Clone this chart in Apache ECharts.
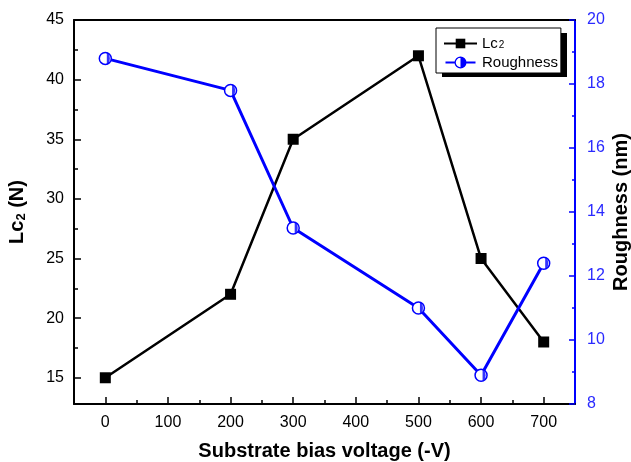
<!DOCTYPE html>
<html>
<head>
<meta charset="utf-8">
<script src="https://cdn.jsdelivr.net/npm/echarts@6/dist/echarts.min.js"></script>
<style>html,body{margin:0;padding:0;background:#fff}#c{width:631px;height:462px}</style>
</head>
<body>
<div id="c"></div>
<script>
var voltages = [0, 200, 300, 500, 600, 700];
var lc2 = [15, 22, 35, 42, 25, 18];
var roughness = [18.8, 17.8, 13.5, 11.0, 8.9, 12.4];

var xMajor = [0, 100, 200, 300, 400, 500, 600, 700];
var xMinor = [50, 150, 250, 350, 450, 550, 650];
var leftMajor = [15, 20, 25, 30, 35, 40, 45];
var leftMinor = [17.5, 22.5, 27.5, 32.5, 37.5, 42.5];
var rightMajor = [8, 10, 12, 14, 16, 18, 20];
var rightMinor = [9, 11, 13, 15, 17, 19];

var FONT = '"Liberation Sans", Arial, sans-serif';
var BLUE = '#0000ff';
var LBLUE = '#2a2aff';

function pairs(xs, ys) { return xs.map(function (x, i) { return [x, ys[i]]; }); }

var legendRoughIcon = 'path://M0,5 L9.5,5 L9.5,7 L0,7 Z ' +
  'M21,6 A6,6 0 1 1 9,6 A6,6 0 1 1 21,6 Z ' +
  'M19.7,6 A4.7,4.7 0 1 0 10.3,6 A4.7,4.7 0 1 0 19.7,6 Z ' +
  'M15,0 A6,6 0 0 1 15,12 Z ' +
  'M20.5,5 L30,5 L30,7 L20.5,7 Z';

var chart = echarts.init(document.getElementById('c'), null, {renderer: 'canvas'});
var xBase = {type: 'value', min: -50, max: 750, gridIndex: 0, splitLine: {show: false}};
var option = {
  backgroundColor: '#fff',
  animation: false,
  textStyle: {fontFamily: FONT},
  grid: {left: 74, right: 56, top: 20, bottom: 58, containLabel: false, outerBoundsMode: 'none'},
  graphic: [
    {type: 'rect', left: 442, top: 33, shape: {width: 125, height: 44}, style: {fill: '#000'}, z: 0}
  ],
  legend: {
    orient: 'vertical',
    left: 436, top: 28,
    padding: [8, 3, 3, 7],
    itemGap: 4,
    itemWidth: 33, itemHeight: 12,
    backgroundColor: '#fff',
    borderColor: '#000', borderWidth: 1,
    z: 10,
    data: [
      {name: 'Lc2'},
      {name: 'Roughness', icon: legendRoughIcon, itemStyle: {color: BLUE, borderWidth: 0}}
    ],
    formatter: function (n) { return n === 'Lc2' ? '{t|Lc}{s|2}' : '{t|Roughness}'; },
    textStyle: {
      fontFamily: FONT, fontSize: 15, color: '#000',
      rich: {
        t: {fontFamily: FONT, fontSize: 15, color: '#000', lineHeight: 14},
        s: {fontFamily: FONT, fontSize: 10, color: '#000', verticalAlign: 'bottom', lineHeight: 9, padding: [0, 0, 0, 1]}
      }
    }
  },
  xAxis: [
    Object.assign({}, xBase, {
      position: 'bottom',
      axisLine: {show: true, onZero: false, lineStyle: {color: '#000', width: 2}},
      axisTick: {show: true, inside: true, length: 7, customValues: xMajor, lineStyle: {color: '#000', width: 1.5}},
      axisLabel: {show: true, customValues: xMajor, fontSize: 16, color: '#000', margin: 11, fontFamily: FONT},
      name: 'Substrate bias voltage (-V)',
      nameLocation: 'middle', nameGap: 37,
      nameTextStyle: {fontSize: 20, fontWeight: 'bold', color: '#000', fontFamily: FONT}
    }),
    Object.assign({}, xBase, {
      position: 'bottom',
      axisLine: {show: false, onZero: false},
      axisTick: {show: true, inside: true, length: 4, customValues: xMinor, lineStyle: {color: '#000', width: 1.5}},
      axisLabel: {show: false}
    }),
    Object.assign({}, xBase, {
      position: 'top',
      axisLine: {show: true, onZero: false, lineStyle: {color: '#000', width: 2}},
      axisTick: {show: false},
      axisLabel: {show: false}
    })
  ],
  yAxis: [
    {
      type: 'value', min: 12.8, max: 45, position: 'left',
      splitLine: {show: false},
      axisLine: {show: true, onZero: false, lineStyle: {color: '#000', width: 2}},
      axisTick: {show: true, inside: true, length: 7, customValues: leftMajor, lineStyle: {color: '#000', width: 1.5}},
      axisLabel: {show: true, customValues: leftMajor, fontSize: 16, color: '#000', margin: 10, fontFamily: FONT},
      name: '{a|Lc}{b|2}{a| (N)}',
      nameLocation: 'middle', nameGap: 46, nameRotate: 90,
      nameTextStyle: {
        fontSize: 20, fontWeight: 'bold', color: '#000', fontFamily: FONT,
        rich: {
          a: {fontSize: 20, fontWeight: 'bold', color: '#000', fontFamily: FONT},
          b: {fontSize: 13, fontWeight: 'bold', color: '#000', fontFamily: FONT, verticalAlign: 'bottom', padding: [8, 0, 0, 0]}
        }
      }
    },
    {
      type: 'value', min: 8, max: 20, position: 'right',
      splitLine: {show: false},
      axisLine: {show: true, onZero: false, lineStyle: {color: BLUE, width: 2}},
      axisTick: {show: true, inside: true, length: 6, customValues: rightMajor, lineStyle: {color: BLUE, width: 1.5}},
      axisLabel: {show: true, customValues: rightMajor, fontSize: 16, color: LBLUE, margin: 12, fontFamily: FONT},
      name: 'Roughness (nm)',
      nameLocation: 'middle', nameGap: 36, nameRotate: 90,
      nameMoveOverlap: false,
      nameTextStyle: {fontSize: 20, fontWeight: 'bold', color: '#000', fontFamily: FONT}
    },
    {
      type: 'value', min: 12.8, max: 45, position: 'left',
      splitLine: {show: false},
      axisLine: {show: false, onZero: false},
      axisTick: {show: true, inside: true, length: 4, customValues: leftMinor, lineStyle: {color: '#000', width: 1.5}},
      axisLabel: {show: false}
    },
    {
      type: 'value', min: 8, max: 20, position: 'right',
      splitLine: {show: false},
      axisLine: {show: false, onZero: false},
      axisTick: {show: true, inside: true, length: 3, customValues: rightMinor, lineStyle: {color: BLUE, width: 1.5}},
      axisLabel: {show: false}
    }
  ],
  series: [
    {
      name: 'Lc2', type: 'line', xAxisIndex: 0, yAxisIndex: 0,
      data: pairs(voltages, lc2),
      symbol: 'rect', symbolSize: 11,
      lineStyle: {color: '#000', width: 2.5},
      itemStyle: {color: '#000'},
      z: 3
    },
    {
      name: 'Roughness', type: 'line', xAxisIndex: 0, yAxisIndex: 1,
      data: pairs(voltages, roughness),
      symbol: 'circle', symbolSize: 12,
      lineStyle: {color: BLUE, width: 3},
      itemStyle: {color: '#fff', borderColor: BLUE, borderWidth: 1.5},
      z: 4
    },
    {
      name: 'RoughnessHalf', type: 'scatter', xAxisIndex: 0, yAxisIndex: 1,
      data: pairs(voltages, roughness),
      symbol: 'path://M0,0 A10,10 0 0 1 0,20 Z',
      symbolKeepAspect: true,
      symbolSize: [6, 12], symbolOffset: [3, 0],
      itemStyle: {color: BLUE},
      silent: true,
      z: 5
    }
  ]
};
chart.setOption(option);
</script>
</body>
</html>
